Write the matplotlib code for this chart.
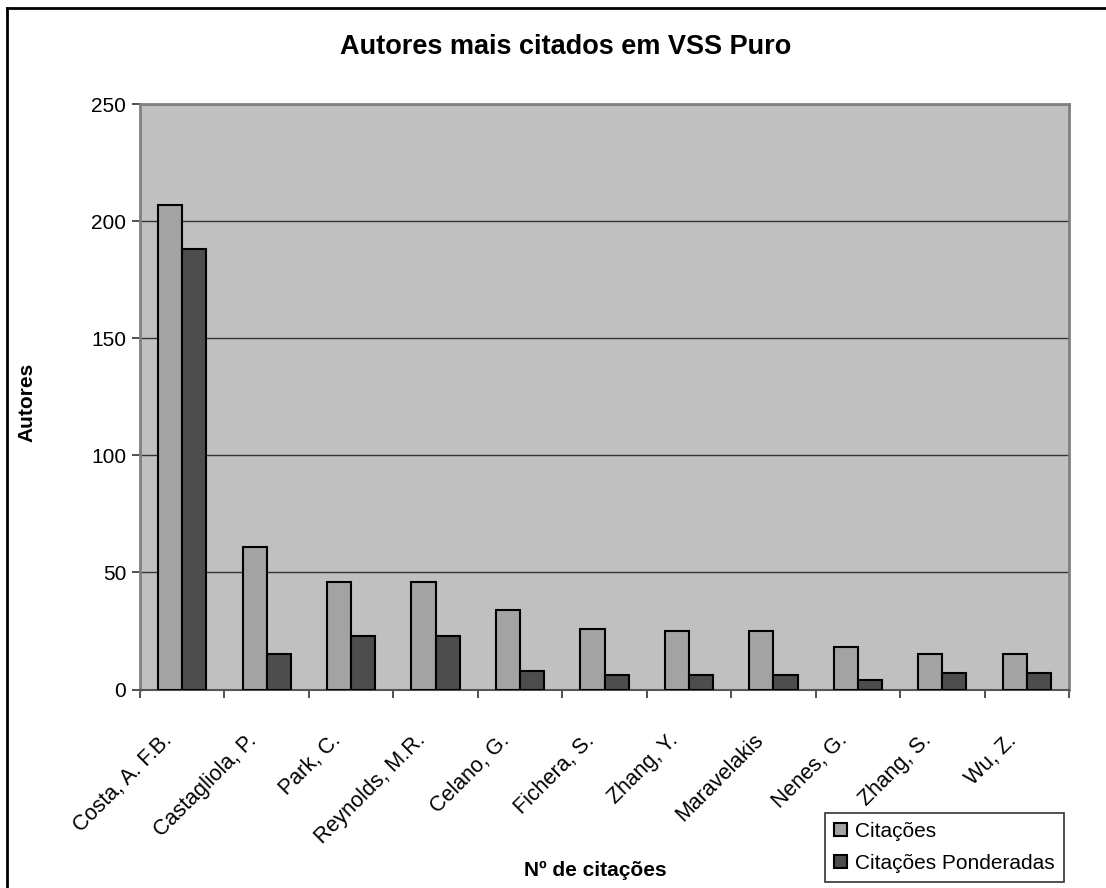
import numpy as np
import matplotlib.pyplot as plt
import matplotlib.transforms as mtransforms
from matplotlib.lines import Line2D

plt.rcParams['font.family'] = ['Liberation Sans', 'DejaVu Sans']

autores = ['Costa, A. F.B.', 'Castagliola, P.', 'Park, C.', 'Reynolds, M.R.',
           'Celano, G.', 'Fichera, S.', 'Zhang, Y.', 'Maravelakis',
           'Nenes, G.', 'Zhang, S.', 'Wu, Z.']
citacoes = [207, 61, 46, 46, 34, 26, 25, 25, 18, 15, 15]
citacoes_ponderadas = [188, 15, 23, 23, 8, 6, 6, 6, 4, 7, 7]

fig = plt.figure(figsize=(11.06, 8.88), dpi=100)
ax = fig.add_axes([140 / 1106, 1 - 689.5 / 888, 929 / 1106, 585.5 / 888])
ax.set_facecolor('#C0C0C0')

x = np.arange(len(autores))
w = 0.2857
ax.bar(x - w / 2, citacoes, w, color='#A3A3A3', edgecolor='black', linewidth=1.5,
       label='Citações', zorder=3)
ax.bar(x + w / 2, citacoes_ponderadas, w, color='#4D4D4D', edgecolor='black',
       linewidth=1.5, label='Citações Ponderadas', zorder=3)

ax.set_xlim(-0.5, len(autores) - 0.5)
ax.set_ylim(0, 250)
ax.set_yticks(range(0, 251, 50))
ax.yaxis.grid(True, color='#333333', linewidth=1, zorder=1)

# category ticks sit on the boundaries between groups
ax.set_xticks(np.arange(-0.5, len(autores), 1.0))
ax.set_xticklabels([])
ax.set_xticks(x, minor=True)
ax.set_xticklabels(autores, minor=True, rotation=45, ha='right',
                   rotation_mode='anchor', fontsize=15.5)
ax.tick_params(axis='x', which='minor', length=0, pad=29)
ax.tick_params(axis='x', which='major', length=6, width=1.2, color='#333333', direction='out')
ax.tick_params(axis='y', length=6, width=1.2, color='#333333', labelsize=15, pad=4)

shift = mtransforms.ScaledTranslation(-21 / 100, 0, fig.dpi_scale_trans)
for lbl in ax.get_xticklabels(minor=True):
    lbl.set_transform(lbl.get_transform() + shift)

for side in ['left', 'top', 'right']:
    ax.spines[side].set_color('#808080')
    ax.spines[side].set_linewidth(2)
ax.spines['bottom'].set_color('#555555')
ax.spines['bottom'].set_linewidth(1.5)

fig.text(566 / 1106, 1 - 47 / 888, 'Autores mais citados em VSS Puro',
         ha='center', va='center', fontsize=19.5, fontweight='bold')
fig.text(27 / 1106, 1 - 402 / 888, 'Autores', rotation=90, ha='center', va='center',
         fontsize=15, fontweight='bold')
fig.text(524 / 1106, 1 - 870 / 888, 'Nº de citações', ha='left', va='center',
         fontsize=15, fontweight='bold')

leg = ax.legend(loc='lower right', bbox_to_anchor=(1064 / 1106, 6 / 888),
                bbox_transform=fig.transFigure, fontsize=15, frameon=True,
                fancybox=False, edgecolor='black', handlelength=0.6,
                handleheight=0.6, handletextpad=0.4, borderpad=0.45,
                labelspacing=0.6, borderaxespad=0)
leg.get_frame().set_linewidth(1.2)

# outer chart frame
fig.add_artist(Line2D([7 / 1106, 7 / 1106], [0, 1 - 8 / 888], color='black', lw=2,
                      transform=fig.transFigure))
fig.add_artist(Line2D([7 / 1106, 1], [1 - 8 / 888, 1 - 8 / 888], color='black', lw=2,
                      transform=fig.transFigure))

fig.savefig('out.png', dpi=100, facecolor='white')
